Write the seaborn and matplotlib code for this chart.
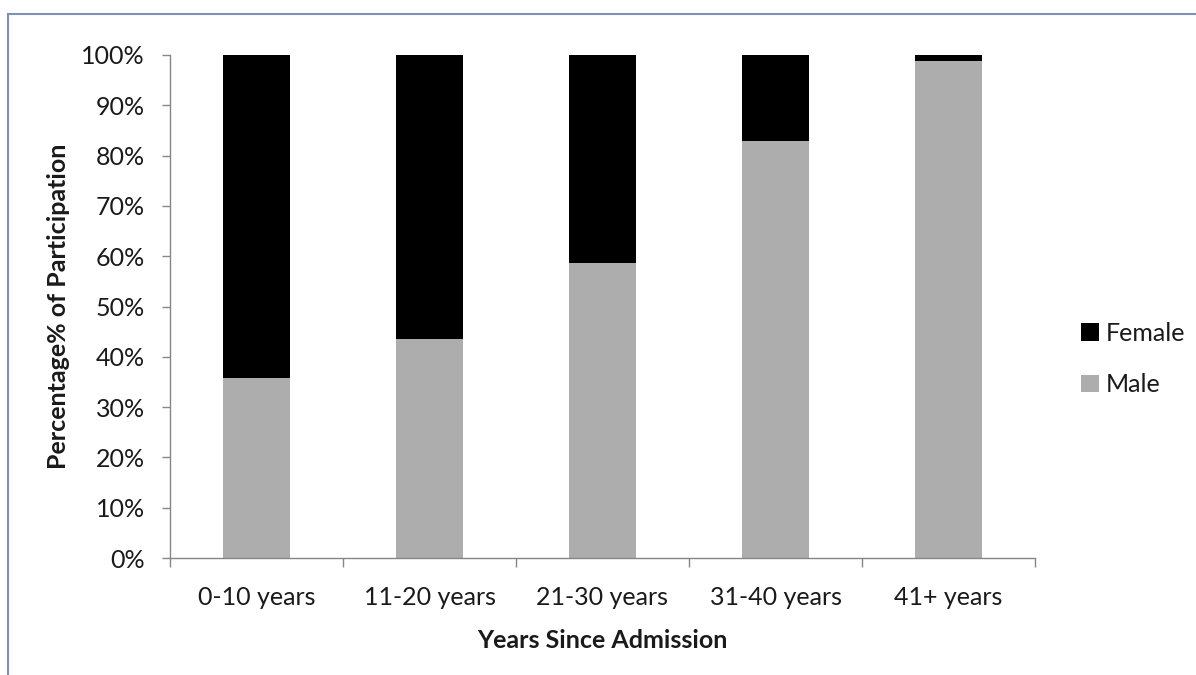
import matplotlib
matplotlib.use("Agg")
import matplotlib.pyplot as plt
from matplotlib.patches import Patch, Rectangle
import seaborn as sns
import pandas as pd

# Participation by years since admission (percent of each group)
categories = ["0-10 years", "11-20 years", "21-30 years", "31-40 years", "41+ years"]
male_pct = [35.7, 43.5, 58.7, 83.0, 98.9]
female_pct = [64.3, 56.5, 41.3, 17.0, 1.1]
y_ticks = [0, 10, 20, 30, 40, 50, 60, 70, 80, 90, 100]
y_tick_labels = [f"{v}%" for v in y_ticks]

MALE_COLOR = "#ADADAD"
FEMALE_COLOR = "#000000"
AXIS_COLOR = "#868686"
TEXT_COLOR = "#1a1a1a"

sns.set_theme(style="white")
plt.rcParams["font.family"] = ["Lato", "DejaVu Sans"]

W, H = 1196, 675
fig = plt.figure(figsize=(W / 100, H / 100), dpi=100)
ax = fig.add_axes([170 / W, 1 - 558 / H, 865 / W, 503 / H])

df = pd.DataFrame({
    "group": categories,
    "male": male_pct,
    "total": [m + f for m, f in zip(male_pct, female_pct)],
})

# Stacked bars: full stack in black, male share drawn over it in gray
sns.barplot(data=df, x="group", y="total", color=FEMALE_COLOR, width=0.39,
            saturation=1, edgecolor="none", ax=ax)
sns.barplot(data=df, x="group", y="male", color=MALE_COLOR, width=0.39,
            saturation=1, edgecolor="none", ax=ax)

ax.set_xlim(-0.5, len(categories) - 0.5)
ax.set_ylim(0, 100)
ax.set_yticks(y_ticks)
ax.set_yticklabels(y_tick_labels)
ax.set_xticks(range(len(categories)))
ax.set_xticklabels(categories)
ax.set_xticks([i - 0.5 for i in range(len(categories) + 1)], minor=True)

for side in ("top", "right"):
    ax.spines[side].set_visible(False)
for side in ("left", "bottom"):
    ax.spines[side].set_color(AXIS_COLOR)
    ax.spines[side].set_linewidth(1.0)

ax.tick_params(axis="y", which="major", left=True, length=6, width=1,
               color=AXIS_COLOR, pad=12, labelsize=18, labelcolor=TEXT_COLOR)
ax.tick_params(axis="x", which="major", bottom=True, length=0, pad=20,
               labelsize=18, labelcolor=TEXT_COLOR)
ax.tick_params(axis="x", which="minor", bottom=True, length=6.5, width=1,
               color=AXIS_COLOR)

ax.set_ylabel("Percentage% of Participation", fontsize=18, fontweight="bold",
              color=TEXT_COLOR)
ax.set_xlabel("Years Since Admission", fontsize=18, fontweight="bold",
              color=TEXT_COLOR)
ax.yaxis.set_label_coords(-0.116, 0.5)
ax.xaxis.set_label_coords(0.5, -0.142)

handles = [Patch(facecolor=FEMALE_COLOR, edgecolor="none", label="Female"),
           Patch(facecolor=MALE_COLOR, edgecolor="none", label="Male")]
fig.legend(handles=handles, loc="center left",
           bbox_to_anchor=(1081 / W, 1 - 359 / H), frameon=False,
           borderaxespad=0, borderpad=0,
           fontsize=18, handlelength=0.7, handleheight=0.7,
           handletextpad=0.3, labelspacing=1.15, labelcolor=TEXT_COLOR)

# Chart-area frame, open at the right and bottom edges
fig.patches.append(Rectangle((8 / W, -0.05), 1.2, (1 - 14 / H) + 0.05,
                             transform=fig.transFigure, fill=False,
                             edgecolor="#7F8FBA", linewidth=1.5))

fig.savefig("out.png", dpi=100)
